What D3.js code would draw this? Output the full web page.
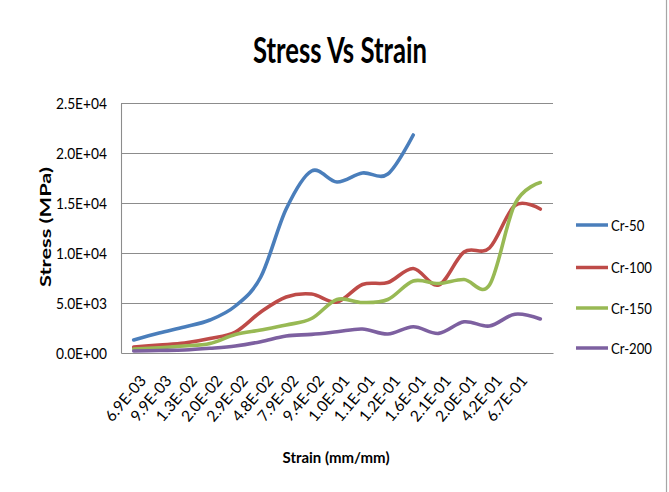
<!DOCTYPE html>
<html>
<head>
<meta charset="utf-8">
<script src="https://cdn.jsdelivr.net/npm/d3@7"></script>
<style>
  html, body { margin: 0; padding: 0; background: #fff; }
  svg { display: block; }
  text { font-family: Lato, "Open Sans", sans-serif; fill: #000; }
</style>
</head>
<body>
<svg id="chart" width="669" height="492"></svg>
<script>
// ---------- data ----------
const categories = ["6.9E-03","9.9E-03","1.3E-02","2.0E-02","2.9E-02","4.8E-02","7.9E-02","9.4E-02",
                    "1.0E-01","1.1E-01","1.2E-01","1.6E-01","2.1E-01","2.0E-01","4.2E-01","6.7E-01",""];
const seriesNames = ["Cr-50","Cr-100","Cr-150","Cr-200"];
const cr50  = [1300, 2000, 2600, 3300, 4700, 7600, 14400, 18200, 17100, 18000, 17900, 21800,
               null, null, null, null, null];
const cr100 = [600, 800, 1000, 1450, 2100, 4100, 5600, 5900, 5100, 6850, 7050, 8450,
               6800, 10100, 10500, 14750, 14400];
const cr150 = [400, 530, 700, 950, 1850, 2300, 2800, 3450, 5350, 5050, 5350, 7200,
               6950, 7350, 6800, 14900, 17050];
const cr200 = [200, 250, 300, 470, 700, 1130, 1700, 1860, 2120, 2400, 1900, 2620,
               1960, 3120, 2700, 3880, 3400];
const yTicks = [0, 5000, 10000, 15000, 20000, 25000];
const yTickLabels = ["0.0E+00","5.0E+03","1.0E+04","1.5E+04","2.0E+04","2.5E+04"];
const colors = ["#4A7EBB", "#BE4B48", "#98B954", "#7D60A0"];

const allSeries = [cr50, cr100, cr150, cr200];

// ---------- layout ----------
const svg = d3.select("#chart");
const pLeft = 121, pRight = 553, pTop = 103, pBottom = 353;

const x = d3.scaleBand().domain(d3.range(categories.length)).range([pLeft, pRight]).padding(0);
const y = d3.scaleLinear().domain([0, 25000]).range([pBottom, pTop]);
const cx = i => x(i) + x.bandwidth() / 2;

function fitWidth(sel, target) {
  sel.each(function () {
    this.setAttribute("textLength", target);
    this.setAttribute("lengthAdjust", "spacingAndGlyphs");
  });
}
function squish(sel, k) {
  sel.each(function () {
    const w = this.getComputedTextLength();
    this.setAttribute("textLength", w * k);
    this.setAttribute("lengthAdjust", "spacingAndGlyphs");
  });
}

// right border
svg.append("line").attr("x1", 666.5).attr("x2", 666.5).attr("y1", 0).attr("y2", 492)
  .attr("stroke", "#a6a6a6").attr("stroke-width", 1.2);

// gridlines
svg.append("g")
  .attr("transform", `translate(${pLeft},0)`)
  .call(d3.axisLeft(y).tickValues(yTicks.slice(1)).tickSize(-(pRight - pLeft)).tickFormat(""))
  .call(g => g.select(".domain").remove())
  .call(g => g.selectAll("line").attr("stroke", "#8c8c8c").attr("stroke-width", 1.1));

// y axis
const yAxis = svg.append("g")
  .attr("transform", `translate(${pLeft},0)`)
  .call(d3.axisLeft(y).tickValues(yTicks).tickSize(0).tickPadding(14)
        .tickFormat((d, i) => yTickLabels[i]));
yAxis.select(".domain").attr("stroke", "#8c8c8c").attr("stroke-width", 1.1);
yAxis.selectAll("text").attr("font-size", 16).attr("font-family", "Lato").attr("fill", "#000")
  .call(squish, 0.86);

// x axis
const xAxis = svg.append("g")
  .attr("transform", `translate(0,${pBottom})`)
  .call(d3.axisBottom(x).tickSize(0).tickFormat(i => categories[i]));
xAxis.select(".domain").attr("stroke", "#8c8c8c").attr("stroke-width", 1.1);
xAxis.selectAll("text")
  .attr("font-size", 15.5).attr("font-family", "Lato").attr("fill", "#000")
  .attr("text-anchor", "end")
  .attr("x", 0).attr("y", 0).attr("dy", "0.71em")
  .attr("transform", "translate(5,21) rotate(-50)");

// lines
const line = d3.line()
  .defined(d => d != null)
  .x((d, i) => cx(i))
  .y(d => y(d))
  .curve(d3.curveCatmullRom.alpha(0));

allSeries.forEach((s, k) => {
  svg.append("path")
    .datum(s)
    .attr("d", line)
    .attr("fill", "none")
    .attr("stroke", colors[k])
    .attr("stroke-width", 3.6)
    .attr("stroke-linejoin", "round")
    .attr("stroke-linecap", "round");
});

// title
svg.append("text")
  .attr("x", 340).attr("y", 63)
  .attr("text-anchor", "middle")
  .attr("font-size", 36).attr("font-weight", "bold")
  .text("Stress Vs Strain")
  .call(fitWidth, 174);

// axis titles
svg.append("text")
  .attr("transform", "translate(51,227) rotate(-90)")
  .attr("text-anchor", "middle")
  .attr("font-size", 15).attr("font-weight", "bold")
  .text("Stress (MPa)")
  .call(fitWidth, 120);

svg.append("text")
  .attr("x", 336).attr("y", 463)
  .attr("text-anchor", "middle")
  .attr("font-size", 15).attr("font-weight", "bold")
  .text("Strain (mm/mm)")
  .call(fitWidth, 107);

// legend
const legendY = [225, 267.5, 308, 348];
const leg = svg.append("g");
seriesNames.forEach((name, k) => {
  leg.append("line")
    .attr("x1", 576).attr("x2", 608)
    .attr("y1", legendY[k]).attr("y2", legendY[k])
    .attr("stroke", colors[k]).attr("stroke-width", 3.5);
  leg.append("text")
    .attr("x", 611).attr("y", legendY[k]).attr("dy", "0.36em")
    .attr("font-size", 16)
    .text(name)
    .call(squish, 0.82);
});
</script>
</body>
</html>
